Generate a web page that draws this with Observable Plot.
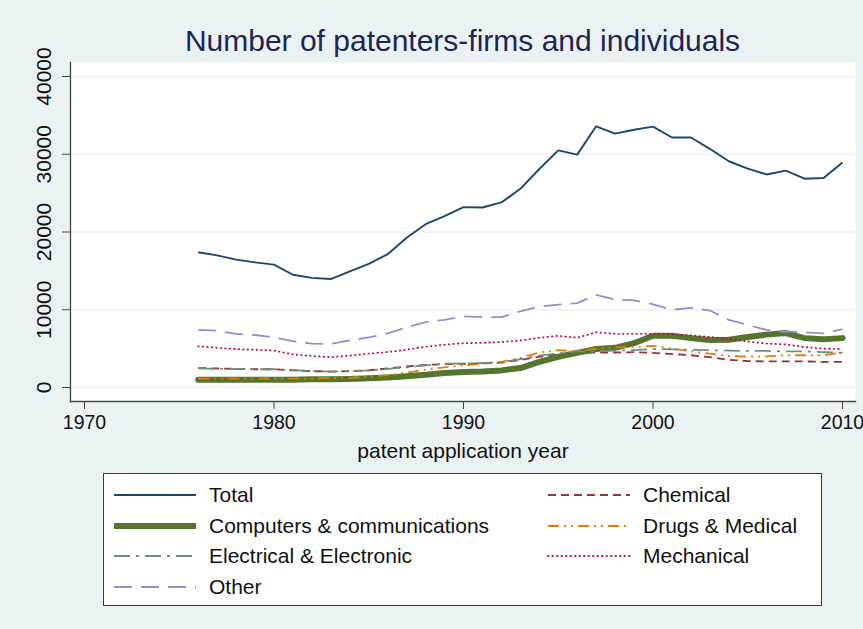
<!DOCTYPE html>
<html>
<head>
<meta charset="utf-8">
<script src="https://cdn.jsdelivr.net/npm/d3@7"></script>
<script src="https://cdn.jsdelivr.net/npm/@observablehq/plot@0.6"></script>
<style>
  html, body { margin: 0; padding: 0; background: #eaf2f3; }
  #wrap { position: relative; width: 863px; height: 629px; background: #eaf2f3; font-family: "Liberation Sans", Arial, sans-serif; overflow: hidden; }
  #title { position: absolute; left: 70px; width: 785px; top: 26px; text-align: center; font-size: 30px; line-height: 30px; color: #1c2553; }
  #chart { position: absolute; left: 0; top: 62px; }
  #chart svg { overflow: visible; }
  #legend { position: absolute; left: 103px; top: 473px; width: 719px; height: 133px; box-sizing: border-box; border: 1px solid #3a3a3a; background: #fff; }
  .item { position: absolute; height: 24px; }
  .item svg { position: absolute; left: 0; top: 7px; }
  .item span { position: absolute; left: 96px; top: 0; font-size: 21px; line-height: 24px; color: #111; white-space: nowrap; }
</style>
</head>
<body>
<div id="wrap">
  <div id="title">Number of patenters-firms and individuals</div>
  <div id="chart"></div>
  <div id="legend"></div>
</div>
<script>
// ---- data ----
const years = [1976,1977,1978,1979,1980,1981,1982,1983,1984,1985,1986,1987,1988,1989,1990,1991,1992,1993,1994,1995,1996,1997,1998,1999,2000,2001,2002,2003,2004,2005,2006,2007,2008,2009,2010];

const total      = [17400,17000,16450,16100,15800,14500,14100,13950,14950,15900,17150,19250,21000,22050,23200,23150,23800,25550,28100,30500,29950,33600,32650,33150,33550,32150,32150,30700,29100,28150,27400,27900,26850,26950,28950];
const chemical   = [2500,2450,2400,2350,2350,2200,2100,2050,2100,2200,2450,2700,2900,3000,3050,3100,3200,3550,3950,4250,4450,4500,4500,4550,4450,4300,4150,3900,3550,3400,3350,3350,3350,3300,3300];
const computers  = [1000,1000,1000,1000,1000,1000,1050,1050,1100,1200,1300,1450,1650,1850,2000,2050,2200,2500,3300,3950,4450,4950,5100,5700,6650,6650,6350,6100,6150,6500,6800,7000,6350,6200,6350];
const drugs      = [1150,1150,1150,1150,1150,1150,1150,1200,1250,1400,1600,1900,2300,2600,2850,3050,3300,3800,4500,4800,4650,5000,5150,5200,5350,5000,4650,4350,4050,3950,4000,4150,4150,4150,4500];
const electrical = [2450,2400,2380,2350,2350,2250,2100,2050,2100,2200,2400,2600,2850,3050,3100,3150,3250,3650,4100,4400,4650,4650,4750,4800,4950,4900,4850,4800,4750,4700,4700,4650,4650,4550,4450];
const mechanical = [5300,5100,4950,4850,4750,4250,4050,3900,4100,4350,4550,4850,5250,5500,5700,5750,5850,6050,6400,6650,6400,7100,6900,6900,6900,6850,6700,6500,6250,5900,5650,5550,5200,5000,4950];
const other      = [7400,7300,6900,6750,6450,5950,5650,5600,6050,6450,6950,7750,8400,8700,9150,9050,9050,9800,10400,10650,10850,11900,11300,11200,10700,10000,10250,9900,8700,8050,7400,7200,7100,6950,7500];

const seriesNames = ["Total","Chemical","Computers & communications","Drugs & Medical","Electrical & Electronic","Mechanical","Other"];
const seriesValues = [total, chemical, computers, drugs, electrical, mechanical, other];

const xTicks = [1970,1980,1990,2000,2010];
const yTicks = [0,10000,20000,30000,40000];
const xLabel = "patent application year";

// legend layout order (two columns, as in the reference)
const legendCol1 = ["Total","Computers & communications","Electrical & Electronic","Other"];
const legendCol2 = ["Chemical","Drugs & Medical","Mechanical"];

// ---- styles ----
const styles = {
  "Total":                     {stroke: "#1a476f", width: 1.9, dash: null, cap: "butt"},
  "Chemical":                  {stroke: "#90353b", width: 1.8, dash: "8,5", cap: "butt"},
  "Computers & communications":{stroke: "#55752f", width: 6,   dash: null, cap: "round"},
  "Drugs & Medical":           {stroke: "#e37e00", width: 1.8, dash: "11,5,2,5,2,5", cap: "butt"},
  "Electrical & Electronic":   {stroke: "#6e8e84", width: 1.8, dash: "16,6,3,6", cap: "butt"},
  "Mechanical":                {stroke: "#c10534", width: 1.8, dash: "0.5,4", cap: "round"},
  "Other":                     {stroke: "#938dd2", width: 1.8, dash: "18,9", cap: "butt"}
};

const table = seriesNames.map((name, i) => ({
  name,
  rows: years.map((year, j) => ({year, value: seriesValues[i][j]}))
}));

const plot = Plot.plot({
  width: 863,
  height: 400,
  marginTop: 0,
  marginLeft: 70,
  marginRight: 8,
  marginBottom: 61,
  style: {background: "transparent", overflow: "visible", fontFamily: "Liberation Sans, Arial, sans-serif", color: "#111"},
  x: {domain: [1969.261, 2010.686]},
  y: {domain: [-1801, 41801]},
  marks: [
    Plot.frame({fill: "white", stroke: null}),
    Plot.gridY(yTicks, {stroke: "#eaf2f3", strokeOpacity: 1, strokeWidth: 1.3}),
    ...table.map(s => Plot.line(s.rows, {
      x: "year", y: "value",
      stroke: styles[s.name].stroke,
      strokeWidth: styles[s.name].width,
      strokeDasharray: styles[s.name].dash,
      strokeLinecap: styles[s.name].cap,
      strokeLinejoin: "round"
    })),
    Plot.frame({anchor: "bottom", stroke: "#444", strokeWidth: 1.3}),
    Plot.frame({anchor: "left", stroke: "#444", strokeWidth: 1.3}),
    Plot.axisX({ticks: xTicks, tickSize: 8, tickPadding: 6, tickFormat: d => String(d), fontSize: 19.5, stroke: "#444", label: null}),
    Plot.axisY({ticks: yTicks, tickSize: 8, tickFormat: () => "", stroke: "#444", label: null}),
    Plot.text(yTicks, {y: d => d, text: d => String(d), frameAnchor: "left", dx: -26.5, rotate: -90, textAnchor: "middle", lineAnchor: "middle", fontSize: 21, fill: "#111"}),
    Plot.text([xLabel], {text: d => d, frameAnchor: "bottom", dy: 41.7, lineAnchor: "top", fontSize: 21, fill: "#111"})
  ]
});
document.getElementById("chart").appendChild(plot);

// ---- legend ----
const legend = document.getElementById("legend");
const rowTops = [9, 39.5, 70, 100.5];
function addItem(name, left, top) {
  const st = styles[name];
  const div = document.createElement("div");
  div.className = "item";
  div.style.left = left + "px";
  div.style.top = top + "px";
  const dash = st.dash ? ` stroke-dasharray="${st.dash}"` : "";
  div.innerHTML = `<svg width="84" height="10"><line x1="1" y1="5" x2="83" y2="5" stroke="${st.stroke}" stroke-width="${st.width}" stroke-linecap="${st.cap === 'round' && !st.dash ? 'butt' : st.cap}"${dash}/></svg><span>${name}</span>`;
  legend.appendChild(div);
}
legendCol1.forEach((n, i) => addItem(n, 9, rowTops[i]));
legendCol2.forEach((n, i) => addItem(n, 443, rowTops[i]));
</script>
</body>
</html>
